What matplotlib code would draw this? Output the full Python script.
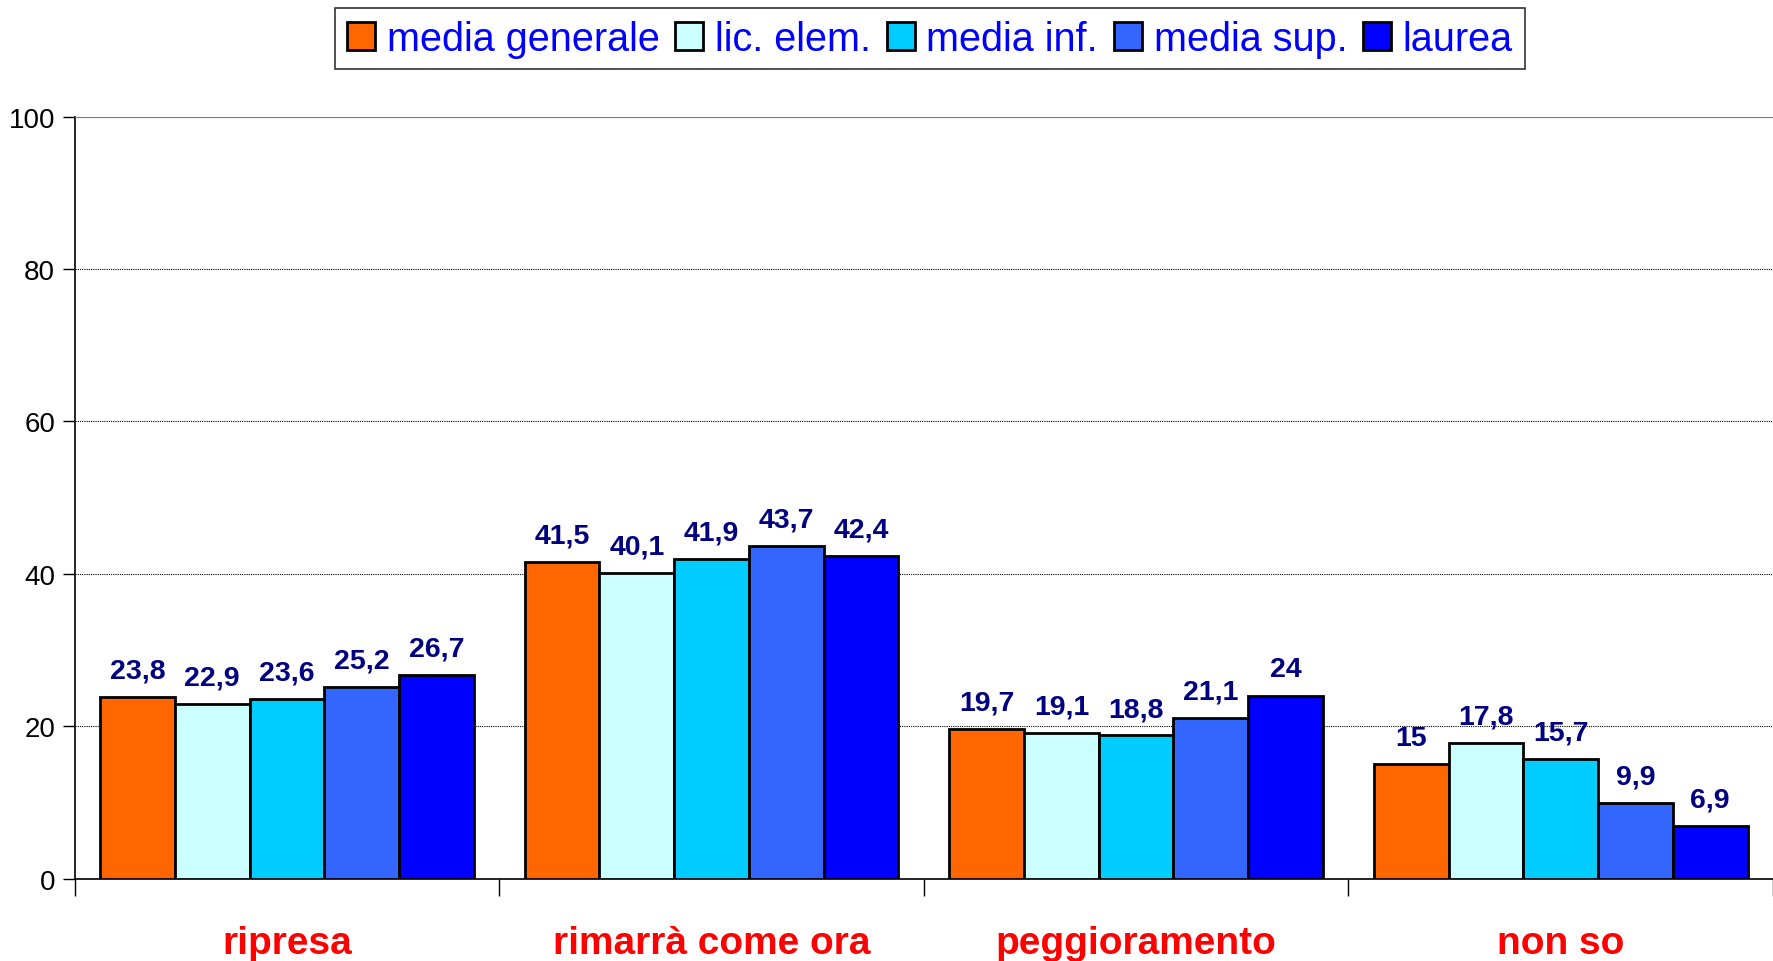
import numpy as np
import matplotlib.pyplot as plt
from matplotlib.transforms import blended_transform_factory

# Data
categories = ["ripresa", "rimarrà come ora", "peggioramento", "non so"]
series_names = ["media generale", "lic. elem.", "media inf.", "media sup.", "laurea"]
media_generale = [23.8, 41.5, 19.7, 15.0]
lic_elem = [22.9, 40.1, 19.1, 17.8]
media_inf = [23.6, 41.9, 18.8, 15.7]
media_sup = [25.2, 43.7, 21.1, 9.9]
laurea = [26.7, 42.4, 24.0, 6.9]
value_labels = [
    ["23,8", "41,5", "19,7", "15"],
    ["22,9", "40,1", "19,1", "17,8"],
    ["23,6", "41,9", "18,8", "15,7"],
    ["25,2", "43,7", "21,1", "9,9"],
    ["26,7", "42,4", "24", "6,9"],
]
colors = ["#FF6600", "#CCFFFF", "#00CCFF", "#3366FF", "#0000FF"]

plt.rcParams['font.family'] = ['Liberation Sans', 'DejaVu Sans']

fig = plt.figure(figsize=(17.73, 9.62), dpi=100)
ax = fig.add_axes([0.0421, 0.0855, 0.9579, 0.7923])

series = [media_generale, lic_elem, media_inf, media_sup, laurea]
x = np.arange(len(categories))
bar_w = 0.176
offsets = (np.arange(len(series)) - 2) * bar_w

handles = []
for k, vals in enumerate(series):
    bars = ax.bar(x + offsets[k], vals, width=bar_w, color=colors[k],
                  edgecolor="black", linewidth=2.0, label=series_names[k], zorder=3)
    handles.append(bars)
    for b, txt in zip(bars, value_labels[k]):
        ax.annotate(txt, (b.get_x() + b.get_width() / 2, b.get_height()),
                    xytext=(0, 14), textcoords="offset points",
                    ha="center", va="baseline", fontsize=20.5, fontweight="bold",
                    color="#000080", zorder=4)

ax.set_xlim(-0.5, len(categories) - 0.5)
ax.set_ylim(0, 100)
ax.set_yticks([0, 20, 40, 60, 80, 100])
ax.tick_params(axis="y", labelsize=20, length=9, width=1, direction="out", pad=5)

# ticks at group boundaries, labels underneath each group
ax.set_xticks(np.arange(len(categories) + 1) - 0.5)
ax.set_xticklabels([])
ax.tick_params(axis="x", length=12, width=1, direction="out")
trans = blended_transform_factory(ax.transData, ax.transAxes)
for i, cat in enumerate(categories):
    ax.text(i, -0.084, cat, transform=trans, ha="center", va="center",
            fontsize=28, fontweight="bold", color="#FF0000")

ax.yaxis.grid(True, linestyle=(0, (1, 1)), color="black", linewidth=0.8, zorder=0)
ax.set_axisbelow(True)
ax.spines["right"].set_visible(False)
ax.spines["top"].set_color("#808080")
ax.spines["left"].set_linewidth(1.2)
ax.spines["bottom"].set_linewidth(1.2)

leg = fig.legend(handles=handles, loc="upper center", bbox_to_anchor=(0.5245, 0.991),
                 ncol=5, fontsize=28.5, frameon=True, fancybox=False,
                 handlelength=0.7, handleheight=0.7, handletextpad=0.3,
                 columnspacing=0.4, borderpad=0.3, borderaxespad=0,
                 labelcolor="#0000FF")
leg.get_frame().set_edgecolor("black")
leg.get_frame().set_linewidth(1.2)

fig.savefig("out.png", dpi=100)
